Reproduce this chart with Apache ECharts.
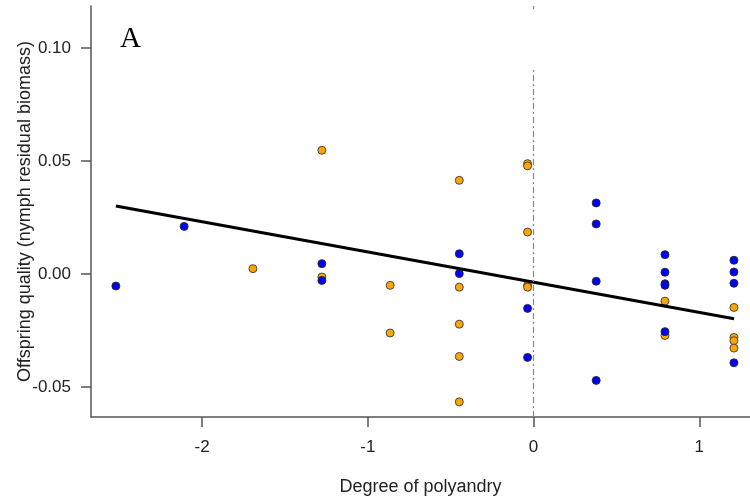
<!DOCTYPE html>
<html>
<head>
<meta charset="utf-8">
<script src="https://cdn.jsdelivr.net/npm/echarts@6/dist/echarts.min.js"></script>
<style>
  html, body { margin: 0; padding: 0; background: #fff; }
  #chart { width: 750px; height: 499px; }
</style>
</head>
<body>
<div id="chart"></div>
<script>
// Degree of polyandry (x) vs offspring quality (y), two groups
const orangeX = [-1.693, -1.277, -1.277, -0.865, -0.865,
  -0.448, -0.448, -0.448, -0.448, -0.448,
  -0.036, -0.036, -0.036, -0.036, -0.036,
  0.793, 0.793,
  1.209, 1.209, 1.209, 1.209];
const orangeY = [0.0024, 0.0548, -0.0013, -0.0050, -0.0261,
  0.0415, -0.0058, -0.0222, -0.0365, -0.0566,
  0.0489, 0.0479, 0.0186, -0.0050, -0.0058,
  -0.0120, -0.0272,
  -0.0148, -0.0281, -0.0295, -0.0328];

const blueX = [-2.520, -2.108, -1.277, -1.277,
  -0.448, -0.448,
  -0.036, -0.036,
  0.378, 0.378, 0.378, 0.378,
  0.793, 0.793, 0.793, 0.793, 0.793,
  1.209, 1.209, 1.209, 1.209];
const blueY = [-0.0053, 0.0211, 0.0046, -0.0028,
  0.0090, 0.0002,
  -0.0152, -0.0369,
  0.0315, 0.0222, -0.0032, -0.0471,
  0.0086, 0.0008, -0.0043, -0.0050, -0.0255,
  0.0061, 0.0009, -0.0041, -0.0393];

// Fitted regression line end points
const fitX = [-2.52, 1.21];
const fitY = [0.0301, -0.0198];

const xTicks = [-2, -1, 0, 1];
const yTicks = [-0.05, 0.00, 0.05, 0.10];

const xMin = -2.670, xMax = 1.306;
const yMin = -0.0633, yMax = 0.1187;

const zip = (xs, ys) => xs.map((x, i) => [x, ys[i]]);

const axisColor = '#555';
const labelColor = '#222';
const sansFont = 'Liberation Sans, Arial, sans-serif';

const chart = echarts.init(document.getElementById('chart'), null, { renderer: 'canvas' });

chart.setOption({
  animation: false,
  backgroundColor: '#ffffff',
  grid: { left: 91, right: 0, top: 6, bottom: 82, containLabel: false, outerBoundsMode: 'none' },
  xAxis: {
    type: 'value',
    min: xMin, max: xMax,
    name: 'Degree of polyandry',
    nameLocation: 'middle',
    nameGap: 61,
    nameMoveOverlap: false,
    nameTextStyle: { color: labelColor, fontSize: 18, fontFamily: sansFont },
    axisLine: { show: true, onZero: false, lineStyle: { color: axisColor, width: 1.5 } },
    axisTick: { show: true, length: 10, customValues: xTicks, lineStyle: { color: axisColor, width: 1.5 } },
    axisLabel: {
      customValues: xTicks, margin: 22,
      color: labelColor, fontSize: 17, fontFamily: sansFont,
      formatter: v => String(v)
    },
    splitLine: { show: false }
  },
  yAxis: {
    type: 'value',
    min: yMin, max: yMax,
    name: 'Offspring quality (nymph residual biomass)',
    nameLocation: 'middle',
    nameGap: 57,
    nameMoveOverlap: false,
    nameTextStyle: { color: labelColor, fontSize: 18, fontFamily: sansFont },
    axisLine: { show: true, onZero: false, lineStyle: { color: axisColor, width: 1.5 } },
    axisTick: { show: true, length: 10, customValues: yTicks, lineStyle: { color: axisColor, width: 1.5 } },
    axisLabel: {
      customValues: yTicks, margin: 20,
      color: labelColor, fontSize: 17, fontFamily: sansFont,
      formatter: v => v.toFixed(2)
    },
    splitLine: { show: false }
  },
  series: [
    {
      name: 'reference',
      type: 'line',
      data: [],
      silent: true,
      markLine: {
        silent: true,
        symbol: 'none',
        label: { show: false },
        lineStyle: { color: '#888', width: 1.2, type: [6, 3, 2, 3] },
        data: [
          [{ coord: [0, yMin] }, { coord: [0, 0.0913] }],
          [{ coord: [0, 0.1173] }, { coord: [0, yMax] }]
        ]
      }
    },
    {
      name: 'orange',
      type: 'scatter',
      data: zip(orangeX, orangeY),
      symbol: 'circle',
      symbolSize: 8,
      itemStyle: { color: '#FFA500', borderColor: '#3a3a3a', borderWidth: 0.9, opacity: 1 },
      z: 3
    },
    {
      name: 'blue',
      type: 'scatter',
      data: zip(blueX, blueY),
      symbol: 'circle',
      symbolSize: 8,
      itemStyle: { color: '#0000FF', borderColor: '#2a2a2a', borderWidth: 0.9, opacity: 1 },
      z: 3
    },
    {
      name: 'fit',
      type: 'line',
      data: zip(fitX, fitY),
      symbol: 'none',
      lineStyle: { color: '#000', width: 3 },
      z: 4
    }
  ],
  graphic: [
    {
      type: 'text',
      left: 120,
      top: 25,
      style: { text: 'A', fill: '#000', font: '29px "Liberation Serif", "Times New Roman", serif' }
    }
  ]
});
</script>
</body>
</html>
